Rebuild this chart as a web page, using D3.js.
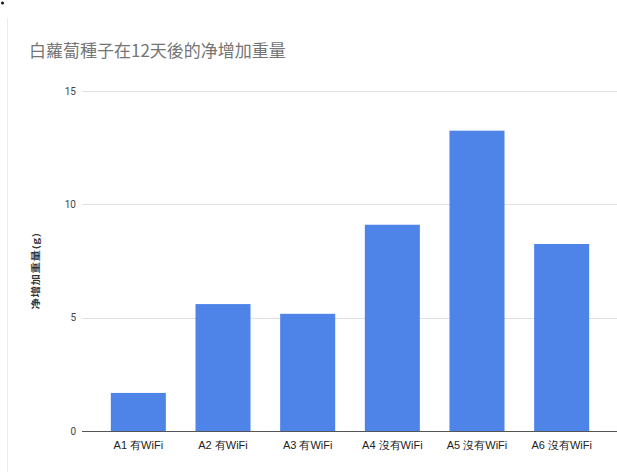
<!DOCTYPE html>
<html>
<head>
<meta charset="utf-8">
<script src="https://cdn.jsdelivr.net/npm/d3@7"></script>
<style>
  html, body { margin: 0; padding: 0; background: #fff; }
  svg { display: block; font-family: "Noto Sans CJK TC", "Noto Sans", sans-serif; }
</style>
</head>
<body>
<svg id="chart" width="617" height="472"></svg>
<script>
// Net weight gain of radish seeds after 12 days, per sample
const categories = ["A1 有WiFi", "A2 有WiFi", "A3 有WiFi", "A4 沒有WiFi", "A5 沒有WiFi", "A6 沒有WiFi"];
const gains = [1.68, 5.6, 5.17, 9.1, 13.25, 8.25];
const yTicks = [0, 5, 10, 15];
const titleText = "白蘿蔔種子在12天後的净增加重量";
const yLabel = "净增加重量(g)";

const svg = d3.select("#chart");

const x = d3.scaleBand()
  .domain(categories)
  .range([96, 604])
  .paddingInner(0.35)
  .paddingOuter(0.175);

const y = d3.scaleLinear()
  .domain([0, 15])
  .range([431, 91]);

// faint frame edge at the left
svg.append("line")
  .attr("x1", 7.5).attr("x2", 7.5)
  .attr("y1", 18).attr("y2", 472)
  .attr("stroke", "#ececec").attr("stroke-width", 1);
svg.append("circle")
  .attr("cx", 2.5).attr("cy", 3).attr("r", 1.5).attr("fill", "#111");

// title
svg.append("text")
  .attr("x", 29).attr("y", 57)
  .attr("font-size", 17)
  .attr("fill", "#757575")
  .text(titleText);

// gridlines and tick labels
const yAxis = d3.axisLeft(y)
  .tickValues(yTicks)
  .tickSize(0)
  .tickPadding(6);

const gy = svg.append("g")
  .attr("transform", "translate(82,0)")
  .call(yAxis);
gy.select(".domain").remove();
gy.selectAll("text")
  .attr("font-size", 10)
  .attr("fill", "#444")
  .attr("font-family", "Roboto, 'Noto Sans', sans-serif");

svg.append("g")
  .selectAll("line")
  .data(yTicks.filter(t => t !== 0))
  .join("line")
  .attr("x1", 82).attr("x2", 617)
  .attr("y1", d => Math.round(y(d)) + 0.5)
  .attr("y2", d => Math.round(y(d)) + 0.5)
  .attr("stroke", "#e0e0e0");

// bars
svg.append("g")
  .selectAll("rect")
  .data(categories)
  .join("rect")
  .attr("x", d => x(d))
  .attr("width", x.bandwidth())
  .attr("y", (d, i) => y(gains[i]))
  .attr("height", (d, i) => y(0) - y(gains[i]))
  .attr("fill", "#4e84e8");

// baseline
svg.append("line")
  .attr("x1", 82).attr("x2", 617)
  .attr("y1", y(0) + 0.5).attr("y2", y(0) + 0.5)
  .attr("stroke", "#555").attr("stroke-width", 1);

// category labels
const xAxis = d3.axisBottom(x).tickSize(0).tickPadding(10);
const gx = svg.append("g")
  .attr("transform", `translate(0,${y(0)})`)
  .call(xAxis);
gx.select(".domain").remove();
gx.selectAll("text")
  .attr("font-size", 11)
  .attr("fill", "#222");

// y axis title
svg.append("text")
  .attr("transform", "translate(39,271) rotate(-90) scale(1,0.75)")
  .attr("text-anchor", "middle")
  .attr("font-size", 11.5)
  .attr("letter-spacing", 0.5)
  .attr("font-weight", "bold")
  .attr("fill", "#333")
  .text(yLabel);
</script>
</body>
</html>
